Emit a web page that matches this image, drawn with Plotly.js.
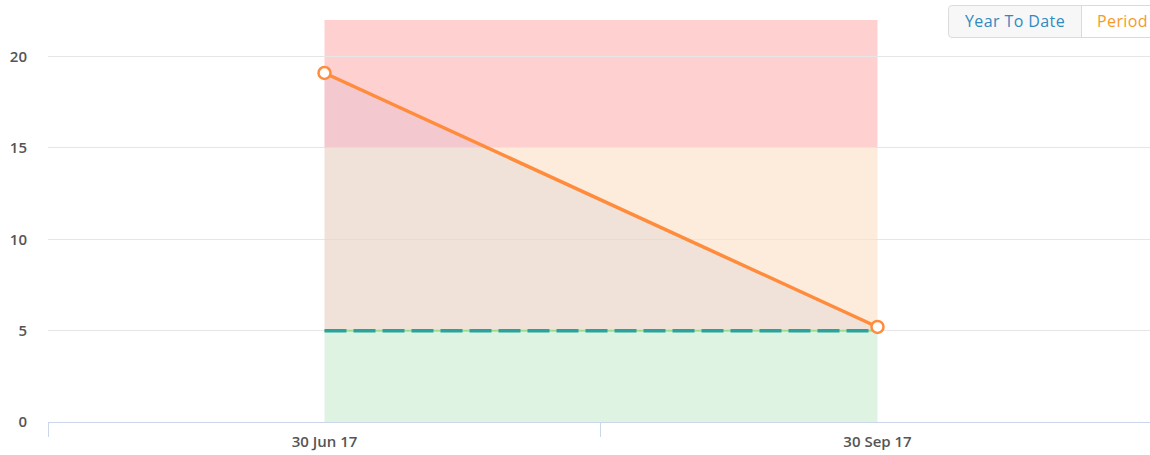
<!DOCTYPE html>
<html>
<head>
<meta charset="utf-8">
<script src="https://cdn.plot.ly/plotly-3.0.1.min.js"></script>
<style>
  html, body { margin: 0; padding: 0; background: #fff; }
  #wrap { position: relative; width: 1150px; height: 455px; overflow: hidden; }
  #chart { width: 1150px; height: 455px; }
  .btn { position: absolute; top: 5px; height: 33px; box-sizing: border-box; font-family: "Open Sans", "Noto Sans", sans-serif; font-size: 16px; letter-spacing: 0.4px; line-height: 31px; }
  #b1 { left: 948px; width: 134px; background: #f7f7f7; border: 1px solid #dcdcdc; border-radius: 4px 0 0 4px; color: #2f8ac2; text-align: center; }
  #b2 { left: 1081px; width: 90px; background: #fff; border: 1px solid #f6dc86; color: #f59a2a; padding-left: 15px; }
</style>
</head>
<body>
<div id="wrap">
  <div id="chart"></div>
  <div class="btn" id="b1">Year To Date</div>
  <div class="btn" id="b2">Period</div>
</div>
<script>
// Data
var categories = ["30 Jun 17", "30 Sep 17"];
var actualValues = [19.1, 5.2];
var targetValues = [5, 5];
var bandFrom = [0, 5, 15];
var bandTo = [5, 15, 22];
var bandColors = ["#dff3e3", "#fdebdb", "#ffd0d0"];
var yTicks = [0, 5, 10, 15, 20];

var xIdx = categories.map(function (c, i) { return i; });

var shapes = bandFrom.map(function (f, i) {
  return {
    type: "rect", layer: "below", xref: "x", yref: "y",
    x0: xIdx[0], x1: xIdx[xIdx.length - 1], y0: f, y1: bandTo[i],
    fillcolor: bandColors[i], line: { width: 0 }
  };
});

var traces = [
  { x: categories, y: targetValues, type: "scatter", mode: "lines",
    line: { color: "#9fe38a", width: 2 }, hoverinfo: "skip", showlegend: false },
  { x: categories, y: targetValues, type: "scatter", mode: "lines",
    line: { color: "#2aa39c", width: 3.5, dash: "22px,7px" }, showlegend: false },
  { x: categories, y: actualValues, type: "scatter", mode: "lines+markers",
    fill: "tonexty", fillcolor: "rgba(105,129,199,0.08)",
    line: { color: "#ff8c3c", width: 3.5 },
    marker: { size: 12, color: "#ffffff", line: { color: "#ff8c3c", width: 2.5 } },
    showlegend: false }
];

var layout = {
  width: 1150, height: 455,
  margin: { l: 48, r: 0, t: 20, b: 33 },
  paper_bgcolor: "#ffffff", plot_bgcolor: "#ffffff",
  font: { family: "Open Sans, Noto Sans, sans-serif", size: 15, color: "#555555" },
  showlegend: false,
  shapes: shapes,
  xaxis: {
    type: "category", categoryarray: categories,
    range: [-0.5, 1.4928],
    tickson: "boundaries", ticks: "outside", ticklen: 14, tickcolor: "#ccd6eb", tickwidth: 1,
    showline: true, linecolor: "#ccd6eb", linewidth: 1,
    showgrid: false, zeroline: false,
    tickfont: { size: 15, color: "#555555", weight: 600 },
    ticklabelstandoff: 6, fixedrange: true
  },
  yaxis: {
    range: [0, 22], tickvals: yTicks, ticktext: yTicks.map(String),
    showgrid: true, gridcolor: "#e6e6e6", gridwidth: 1,
    zeroline: false, showline: false, ticks: "",
    tickfont: { size: 15, color: "#555555", weight: 600 },
    ticklabelstandoff: 20, fixedrange: true
  }
};

Plotly.newPlot("chart", traces, layout, { displayModeBar: false, staticPlot: true });
</script>
</body>
</html>
